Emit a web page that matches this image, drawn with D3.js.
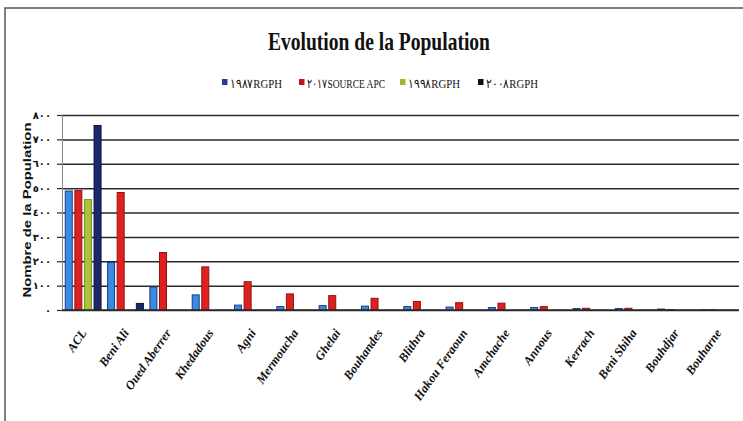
<!DOCTYPE html>
<html>
<head>
<meta charset="utf-8">
<script src="https://cdn.jsdelivr.net/npm/d3@7/dist/d3.min.js"></script>
<style>
  html, body { margin: 0; padding: 0; background: #fff; }
  svg { display: block; }
</style>
</head>
<body>
<svg id="chart" width="743" height="421"></svg>
<script>
// Communes of the study area
const categories = ["ACL", "Beni Ali", "Oued Aberrer", "Khedadous", "Agni", "Mermoucha",
  "Ghelai", "Bouhandes", "Blithra", "Hakou Feraoun", "Amchache", "Annous",
  "Kerrach", "Beni Sbiha", "Bouhdjar", "Bouharne"];

// Population per census / source
const pop1987 = [488, 195, 94, 62, 20, 14, 18, 16, 14, 12, 10, 10, 6, 6, 4, 1];
const pop2017 = [490, 482, 236, 177, 116, 66, 59, 48, 35, 30, 28, 14, 7, 7, 2, 1];
const pop1998 = [453, 0, 0, 0, 0, 0, 0, 0, 0, 0, 0, 0, 0, 0, 0, 0];
const pop2008 = [757, 27, 0, 0, 0, 0, 0, 0, 0, 0, 0, 0, 0, 0, 0, 0];

const seriesNames = ["١٩٨٧RGPH", "٢٠١٧SOURCE APC", "١٩٩٨RGPH", "٢٠٠٨RGPH"];
const seriesValues = [pop1987, pop2017, pop1998, pop2008];

const yTicks = [0, 100, 200, 300, 400, 500, 600, 700, 800];
const yTickLabels = ["٠", "١٠٠", "٢٠٠", "٣٠٠", "٤٠٠", "٥٠٠", "٦٠٠", "٧٠٠", "٨٠٠"];

const barFill   = ["#3b8ae0", "#e0201e", "#a9c43a", "#1d2768"];
const barStroke = ["#183c86", "#8e1412", "#78921c", "#0c1242"];
const keyFill   = ["#1d3fa0", "#c8101a", "#a3b52a", "#111111"];

const svg = d3.select("#chart");

// outer frame (only its top and left edges fall inside the view)
svg.append("rect")
  .attr("x", 5).attr("y", 8).attr("width", 780).attr("height", 460)
  .attr("fill", "none").attr("stroke", "#555").attr("stroke-width", 1.5);

const plot = { left: 62, right: 739, top: 115, bottom: 310 };

const x0 = d3.scaleBand().domain(categories).range([plot.left, plot.right]).paddingInner(0).paddingOuter(0);
const x1 = d3.scaleBand().domain(d3.range(seriesNames.length))
  .range([0, x0.bandwidth()]).paddingInner(0.27).paddingOuter(0.34);
const y = d3.scaleLinear().domain([0, 800]).range([plot.bottom, plot.top]);

// title
svg.append("text")
  .attr("x", 379).attr("y", 50)
  .attr("text-anchor", "middle")
  .attr("font-family", "Liberation Serif, serif")
  .attr("font-weight", "bold")
  .attr("font-size", 25)
  .attr("textLength", 222)
  .attr("lengthAdjust", "spacingAndGlyphs")
  .attr("fill", "#111")
  .text("Evolution de la Population");

// legend
const legendX = [222, 299, 400, 478];
const legendW = [52, 78, 52, 52];
const legend = svg.append("g");
seriesNames.forEach((name, i) => {
  legend.append("rect")
    .attr("x", legendX[i]).attr("y", 79).attr("width", 5.5).attr("height", 6)
    .attr("fill", keyFill[i]);
  legend.append("text")
    .attr("x", legendX[i] + 8).attr("y", 88)
    .attr("font-family", "Liberation Serif, serif")
    .attr("font-size", 13)
    .attr("textLength", legendW[i])
    .attr("lengthAdjust", "spacingAndGlyphs")
    .attr("fill", "#111")
    .text(name);
});

// gridlines
const grid = svg.append("g")
  .attr("transform", `translate(${plot.left},0)`)
  .call(d3.axisLeft(y).tickValues(yTicks).tickSize(-(plot.right - plot.left)).tickFormat(""));
grid.select(".domain").remove();
grid.selectAll(".tick line")
  .attr("stroke", "#2a2a2a").attr("stroke-width", 1.5);

// short outer ticks and value labels
const yAxis = svg.append("g")
  .attr("transform", `translate(${plot.left},0)`)
  .call(d3.axisLeft(y).tickValues(yTicks).tickSize(5).tickPadding(6)
    .tickFormat((d, i) => yTickLabels[i]));
yAxis.select(".domain").attr("stroke", "#888").attr("stroke-width", 1);
yAxis.selectAll(".tick line").attr("stroke", "#2a2a2a").attr("stroke-width", 1.2);
yAxis.selectAll(".tick text")
  .attr("font-family", "DejaVu Sans, sans-serif")
  .attr("font-weight", "bold")
  .attr("font-size", 10)
  .attr("fill", "#111");

// axis title
svg.append("text")
  .attr("transform", "translate(31,210) rotate(-90)")
  .attr("text-anchor", "middle")
  .attr("font-family", "Liberation Sans, sans-serif")
  .attr("font-weight", "bold")
  .attr("font-size", 11)
  .attr("textLength", 175)
  .attr("lengthAdjust", "spacingAndGlyphs")
  .attr("fill", "#111")
  .text("Nombre de la Population");

// bars
const groups = svg.append("g").selectAll("g")
  .data(categories)
  .join("g")
  .attr("transform", d => `translate(${x0(d)},0)`);

groups.selectAll("rect")
  .data((d, ci) => seriesValues.map((vals, si) => ({ si, v: vals[ci] })))
  .join("rect")
  .filter(d => d.v > 0)
  .attr("x", d => x1(d.si))
  .attr("y", d => y(d.v))
  .attr("width", x1.bandwidth())
  .attr("height", d => y(0) - y(d.v))
  .attr("fill", d => barFill[d.si])
  .attr("stroke", d => barStroke[d.si])
  .attr("stroke-width", 1);

// baseline
svg.append("line")
  .attr("x1", plot.left).attr("x2", plot.right)
  .attr("y1", y(0)).attr("y2", y(0))
  .attr("stroke", "#2a2a2a").attr("stroke-width", 1.5);

// category labels
svg.append("g").selectAll("text")
  .data(categories)
  .join("text")
  .attr("transform", d => `translate(${x0(d) + x0.bandwidth() / 2 + 4},333) rotate(-55)`)
  .attr("text-anchor", "end")
  .attr("font-family", "Liberation Serif, serif")
  .attr("font-style", "italic")
  .attr("font-weight", "bold")
  .attr("font-size", 12.5)
  .attr("fill", "#111")
  .text(d => d);
</script>
</body>
</html>
